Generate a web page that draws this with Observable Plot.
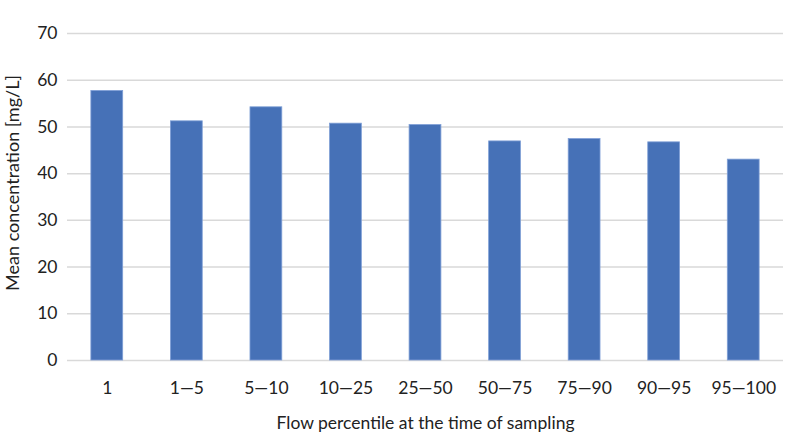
<!DOCTYPE html>
<html>
<head>
<meta charset="utf-8">
<script src="https://cdn.jsdelivr.net/npm/d3@7"></script>
<script src="https://cdn.jsdelivr.net/npm/@observablehq/plot@0.6"></script>
<style>
  html, body { margin: 0; padding: 0; background: #fff; }
  #chart svg { display: block; }
</style>
</head>
<body>
<div id="chart"></div>
<script>
const categories = ["1", "1\u20145", "5\u201410", "10\u201425", "25\u201450", "50\u201475", "75\u201490", "90\u201495", "95\u2014100"];
const values = [57.7, 51.2, 54.2, 50.7, 50.4, 46.9, 47.4, 46.7, 43.0];
const yTicks = [0, 10, 20, 30, 40, 50, 60, 70];

const data = categories.map((c, i) => ({category: c, value: values[i]}));

const chart = Plot.plot({
  width: 800,
  height: 445,
  marginLeft: 67,
  marginRight: 17,
  marginTop: 33,
  marginBottom: 85,
  style: {fontFamily: "Lato, sans-serif", fontSize: "17.5px", color: "#222", background: "#fff"},
  x: {domain: categories, paddingInner: 0.6, paddingOuter: 0.3, round: false, label: null},
  y: {domain: [0, 70], ticks: yTicks, label: null},
  marks: [
    Plot.gridY(yTicks, {stroke: "#d9d9d9", strokeOpacity: 1, strokeWidth: 1.5}),
    Plot.barY(data, {x: "category", y: "value", fill: "#4671b7", stroke: "#7f9fd6", strokeWidth: 0.8}),
    Plot.axisY(yTicks, {tickSize: 0, tickPadding: 10, fontSize: 17.5, fill: "#222", label: null}),
    Plot.axisX({tickSize: 0, tickPadding: 21, fontSize: 17.5, fill: "#222", label: null}),
    Plot.text(["Flow percentile at the time of sampling"], {frameAnchor: "bottom", textAnchor: "middle", dy: 68, fontSize: 17.5, fill: "#222"}),
    Plot.text(["Mean concentration [mg/L]"], {frameAnchor: "left", textAnchor: "middle", dx: -54, dy: -14, rotate: -90, fontSize: 18, fill: "#222"})
  ]
});
document.getElementById("chart").appendChild(chart);
</script>
</body>
</html>
